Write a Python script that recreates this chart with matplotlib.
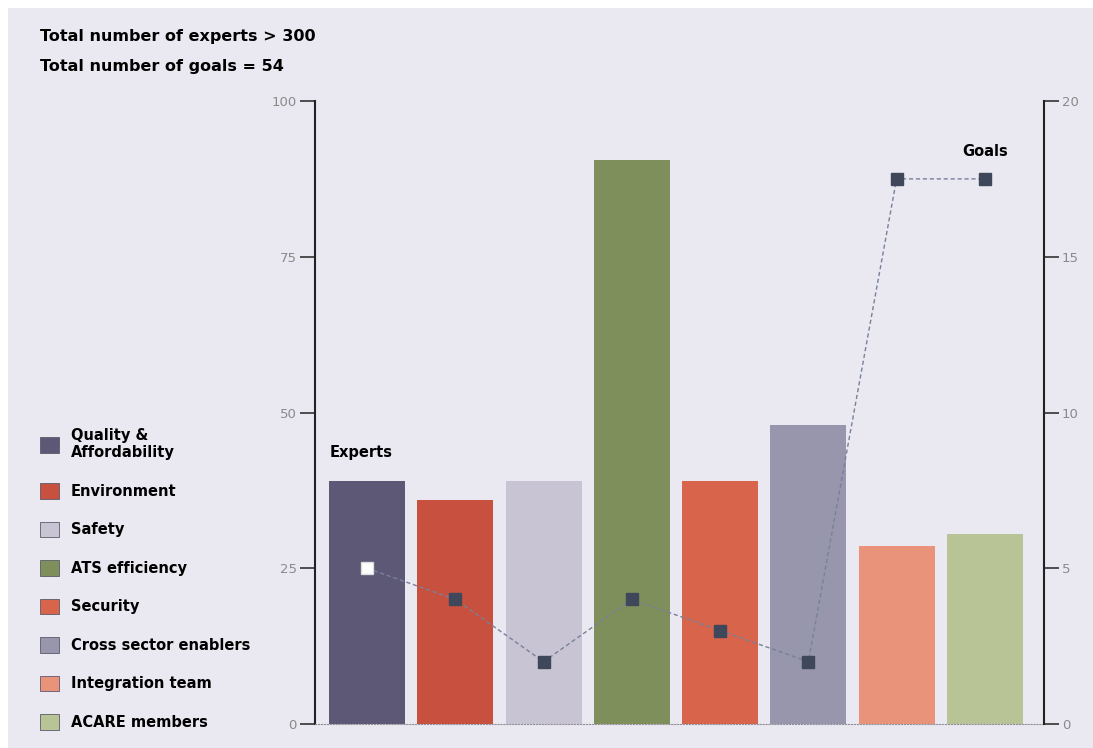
import numpy as np
import matplotlib
matplotlib.use("Agg")
import matplotlib.pyplot as plt
from matplotlib.patches import Patch, Rectangle

# --- DATA ---
categories = ["Quality &\nAffordability", "Environment", "Safety", "ATS efficiency",
              "Security", "Cross sector enablers", "Integration team", "ACARE members"]
experts = [39, 36, 39, 90.5, 39, 48, 28.5, 30.5]
goals = [5, 4, 2, 4, 3, 2, 17.5, 17.5]
bar_colors = ["#5e5877", "#c8503e", "#c9c4d3", "#7f8f5b",
              "#d8644c", "#9796ad", "#e8937a", "#b8c496"]
header_lines = ["Total number of experts > 300", "Total number of goals = 54"]

W, H = 1093, 748
bg = "#eae8f0"

fig = plt.figure(figsize=(W / 100, H / 100), dpi=100, facecolor="white")
fig.patches.append(Rectangle((8 / W, 0), 1 - 8 / W, 1 - 8 / H, transform=fig.transFigure,
                             facecolor=bg, edgecolor="none", zorder=-10))

ax = fig.add_axes([315 / W, 1 - 724 / H, (1044 - 315) / W, (724 - 101) / H])
ax.set_facecolor("none")
x = np.arange(len(categories))
ax.bar(x, experts, width=0.86, color=bar_colors, zorder=2)
ax.set_xlim(-0.59, 7.67)
ax.set_ylim(0, 100)
ax.set_yticks([0, 25, 50, 75, 100])
ax.set_xticks([])
ax.tick_params(axis="y", direction="out", length=11, width=1.2, color="#333333",
               labelcolor="#8a8a8a", labelsize=9.5, pad=2)
for s in ["top", "right"]:
    ax.spines[s].set_visible(False)
ax.spines["left"].set_linewidth(1.5)
ax.spines["left"].set_color("#222222")
ax.spines["bottom"].set_linestyle(":")
ax.spines["bottom"].set_color("#8f8f99")

ax2 = ax.twinx()
ax2.set_ylim(0, 20)
ax2.set_yticks([0, 5, 10, 15, 20])
ax2.plot(x, goals, color="#76819a", lw=1, ls=(0, (3, 2)), zorder=3)
ax2.plot(x, goals, ls="none", marker="s", markersize=8.5, color="#3e485a", zorder=4)
ax2.plot(x[:1], goals[:1], ls="none", marker="s", markersize=8.5, color="white",
         markeredgecolor="#dddddd", zorder=5)
ax2.tick_params(axis="y", direction="out", length=11, width=1.2, color="#333333",
                labelcolor="#8a8a8a", labelsize=9.5, pad=2)
for s in ["top", "left", "bottom"]:
    ax2.spines[s].set_visible(False)
ax2.spines["right"].set_linewidth(1.5)
ax2.spines["right"].set_color("#222222")

ax.text(330 / W, 1 - 452 / H, "Experts", transform=fig.transFigure,
        fontsize=10.5, fontweight="bold", va="center")
ax.text(962 / W, 1 - 151 / H, "Goals", transform=fig.transFigure,
        fontsize=10.5, fontweight="bold", va="center")

for i, line in enumerate(header_lines):
    fig.text(40 / W, 1 - (36 + 30 * i) / H, line, fontsize=11.5, fontweight="bold",
             va="center", ha="left")

handles = [Patch(facecolor=c, edgecolor="#5a5a6a", linewidth=0.6) for c in bar_colors]
fig.legend(handles, categories, loc="upper left", bbox_to_anchor=(40 / W, 1 - 428 / H),
           frameon=False, prop={"size": 10.5, "weight": "bold"}, handlelength=1.3,
           handleheight=1.3, handletextpad=0.8, labelspacing=1.55, borderpad=0,
           borderaxespad=0)

fig.savefig("out.png", dpi=100, facecolor=fig.get_facecolor())
